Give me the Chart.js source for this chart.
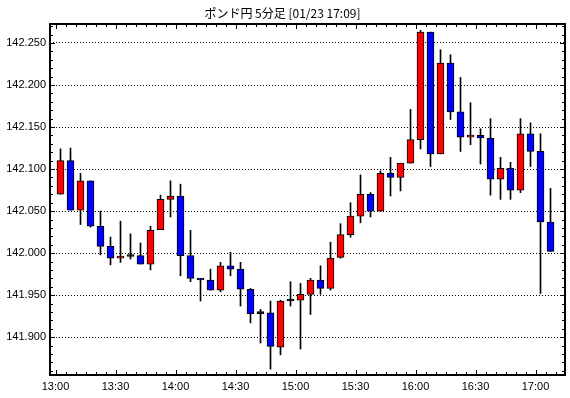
<!DOCTYPE html>
<html>
<head>
<meta charset="utf-8">
<script src="https://cdn.jsdelivr.net/npm/chart.js@4"></script>
<style>
html,body{margin:0;padding:0;background:#fff;}
#wrap{width:570px;height:398px;}
</style>
</head>
<body>
<div id="wrap"><canvas id="c" width="570" height="398"></canvas></div>
<script>
const chartTitle = "ポンド円 5分足 [01/23 17:09]";
const times = ["13:00","13:05","13:10","13:15","13:20","13:25","13:30","13:35","13:40","13:45",
  "13:50","13:55","14:00","14:05","14:10","14:15","14:20","14:25","14:30","14:35",
  "14:40","14:45","14:50","14:55","15:00","15:05","15:10","15:15","15:20","15:25",
  "15:30","15:35","15:40","15:45","15:50","15:55","16:00","16:05","16:10","16:15",
  "16:20","16:25","16:30","16:35","16:40","16:45","16:50","16:55","17:00","17:05"];
const opens = [142.070,142.110,142.051,142.086,142.032,142.008,141.994,141.996,141.997,141.987,
  142.028,142.064,142.068,141.997,141.970,141.968,141.956,141.985,141.981,141.957,
  141.928,141.929,141.888,141.943,141.944,141.951,141.968,141.958,141.995,142.022,
  142.044,142.070,142.050,142.095,142.090,142.107,142.135,142.263,142.118,142.226,
  142.168,142.138,142.140,142.137,142.088,142.101,142.075,142.142,142.121,142.037];
const highs = [142.124,142.125,142.095,142.086,142.050,142.019,142.038,142.023,142.012,142.032,
  142.069,142.086,142.082,142.027,141.970,141.981,141.989,142.001,141.989,141.958,
  141.933,141.943,141.944,141.966,141.964,141.970,141.985,142.013,142.035,142.060,
  142.093,142.072,142.098,142.114,142.107,142.171,142.265,142.263,142.242,142.236,
  142.209,142.179,142.148,142.160,142.114,142.108,142.160,142.155,142.142,142.077];
const lows = [142.070,142.051,142.034,142.031,141.998,141.986,141.989,141.993,141.987,141.980,
  142.028,142.043,141.973,141.966,141.943,141.956,141.954,141.973,141.937,141.917,
  141.893,141.862,141.879,141.937,141.886,141.927,141.951,141.956,141.994,142.019,
  142.036,142.043,142.050,142.068,142.074,142.107,142.124,142.103,142.118,142.159,
  142.121,142.129,142.106,142.069,142.064,142.064,142.072,142.103,141.952,142.002];
const closes = [142.110,142.051,142.086,142.032,142.008,141.994,141.996,141.996,141.987,142.027,
  142.064,142.068,141.997,141.970,141.968,141.956,141.985,141.981,141.957,141.928,
  141.928,141.889,141.943,141.943,141.951,141.968,141.958,141.994,142.022,142.044,
  142.070,142.050,142.095,142.090,142.107,142.135,142.263,142.118,142.226,142.168,
  142.138,142.140,142.137,142.088,142.101,142.075,142.142,142.121,142.037,142.002];
const yTickStep = 0.05;
const xTickStepMin = 30;
const startTime = "13:00";
const candleMinutes = 5;

function toMin(t){ const p=t.split(":"); return (+p[0])*60 + (+p[1]); }
const base = toMin(startTime);
function fmt(m){ const tot = base + m; const h = Math.floor(tot/60), mm = tot%60; return h + ":" + String(mm).padStart(2,"0"); }
// candle drawn at the middle of its 5-minute interval
const xs = times.map(t => toMin(t) - base + candleMinutes/2);

const bodyData = xs.map((x,i)=>({x:x, y:[opens[i], closes[i]]}));
const wickData = xs.map((x,i)=>({x:x, y:[lows[i], highs[i]]}));
const bodyColors = opens.map((o,i)=> closes[i]>o ? "#ff0000" : (closes[i]<o ? "#0000ff" : "#000000"));

const frameTicks = {
  id:"frameTicks",
  afterDraw(chart){
    const {ctx, chartArea:a} = chart;
    const sx = chart.scales.x, sy = chart.scales.y;
    ctx.save();
    ctx.strokeStyle = "#000";
    ctx.lineWidth = 1;
    ctx.beginPath();
    for(let m = Math.ceil(sx.min/candleMinutes)*candleMinutes; m <= sx.max; m += candleMinutes){
      const px = Math.round(sx.getPixelForValue(m)) + 0.5;
      const len = (m % xTickStepMin === 0) ? 5 : 3;
      ctx.moveTo(px, a.bottom); ctx.lineTo(px, a.bottom - len);
      ctx.moveTo(px, a.top); ctx.lineTo(px, a.top + len);
    }
    for(let k = Math.ceil(sy.min*100 - 1e-6); k <= Math.floor(sy.max*100 + 1e-6); k++){
      const py = Math.round(sy.getPixelForValue(k/100)) + 0.5;
      const len = (k % 5 === 0) ? 5 : 3;
      ctx.moveTo(a.left, py); ctx.lineTo(a.left + len, py);
      ctx.moveTo(a.right, py); ctx.lineTo(a.right - len, py);
    }
    ctx.stroke();
    ctx.lineWidth = 2;
    ctx.strokeRect(a.left, a.top, a.right - a.left, a.bottom - a.top);
    ctx.restore();
  }
};

new Chart(document.getElementById("c"), {
  type: "bar",
  data: {
    datasets: [
      { label:"wick", data: wickData, backgroundColor:"#000", borderWidth:0, barThickness:1, grouped:false, order:2 },
      { label:"body", data: bodyData, backgroundColor: bodyColors, borderColor:"#000", borderWidth:1, borderSkipped:false, barThickness:7, minBarLength:2, grouped:false, order:1 }
    ]
  },
  options: {
    responsive:false,
    animation:false,
    devicePixelRatio:1,
    layout:{ padding:{ left:0, right:5, top:0, bottom:0 } },
    plugins:{
      legend:{ display:false },
      tooltip:{ enabled:false },
      title:{ display:true, text: chartTitle, color:"#000",
        font:{ family:"'Noto Sans CJK JP', 'Noto Sans', sans-serif", size:12, weight:"normal", lineHeight:1.2 },
        padding:{ top:6, bottom:3.6 } }
    },
    scales:{
      x:{
        type:"linear", offset:false, min:-2.75, max:254.75,
        grid:{ display:false, drawTicks:false },
        border:{ display:false },
        ticks:{ stepSize:xTickStepMin, includeBounds:false, autoSkip:false, maxRotation:0,
          color:"#000", padding:5, font:{ family:"'Liberation Sans', Arial, sans-serif", size:11 },
          callback:(v)=> fmt(v) },
        afterFit:(s)=>{ s.height = 23; }
      },
      y:{
        type:"linear", min:141.855, max:142.2726,
        grid:{ color:"#000", lineWidth:1, drawTicks:false },
        border:{ display:false, dash:[1,2] },
        ticks:{ stepSize:yTickStep, includeBounds:false, color:"#000", padding:4,
          font:{ family:"'Liberation Sans', Arial, sans-serif", size:11 },
          callback:(v)=> Number(v).toFixed(3) },
        afterFit:(s)=>{ s.width = 50; }
      }
    }
  },
  plugins:[frameTicks]
});
</script>
</body>
</html>
